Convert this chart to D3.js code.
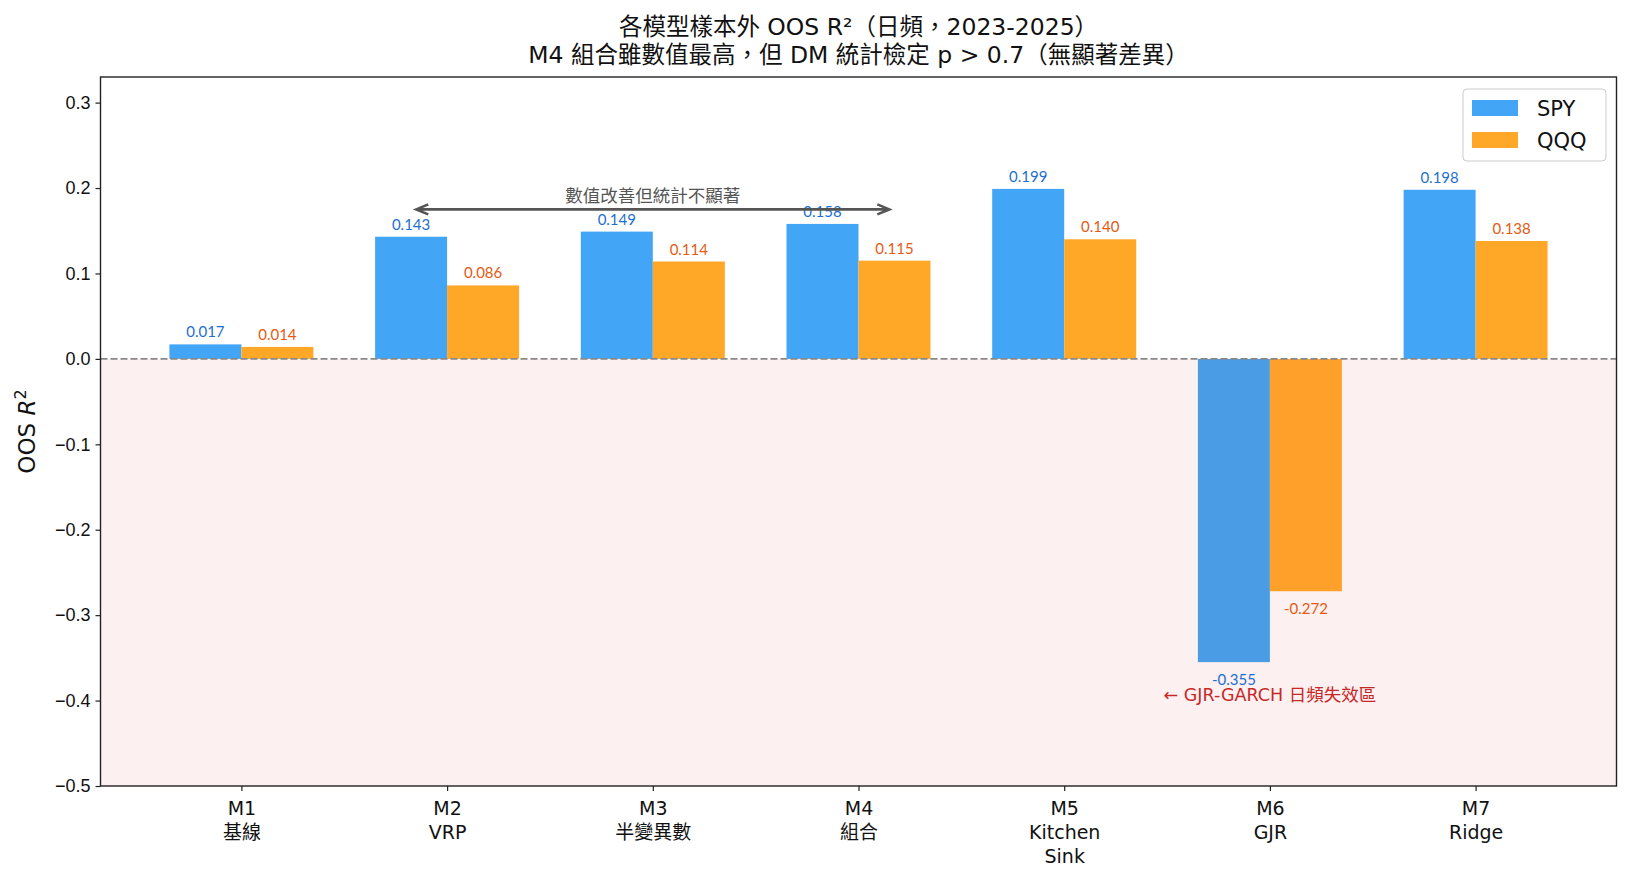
<!DOCTYPE html>
<html>
<head>
<meta charset="utf-8">
<title>OOS R2</title>
<script src="https://d3js.org/d3.v7.min.js"></script>
<style>
  body { margin: 0; background: #fff; }
  svg { display: block; font-family: "Lato", "Noto Sans CJK TC", sans-serif; }
  .wide { font-family: "DejaVu Sans", "Noto Sans CJK TC", sans-serif; }
</style>
</head>
<body>
<svg id="chart" width="1631" height="882"></svg>
<script>
// data
const modelIds = ["M1", "M2", "M3", "M4", "M5", "M6", "M7"];
const modelNames = [["基線"], ["VRP"], ["半變異數"], ["組合"], ["Kitchen", "Sink"], ["GJR"], ["Ridge"]];
const spyValues = [0.017, 0.143, 0.149, 0.158, 0.199, -0.355, 0.198];
const qqqValues = [0.014, 0.086, 0.114, 0.115, 0.140, -0.272, 0.138];
const seriesNames = ["SPY", "QQQ"];
const yTicks = [-0.5, -0.4, -0.3, -0.2, -0.1, 0.0, 0.1, 0.2, 0.3];

const svg = d3.select("#chart");
const margin = {left: 100.5, right: 14.5, top: 77, bottom: 96};
const width = +svg.attr("width"), height = +svg.attr("height");

const barW = 0.35;
const n = modelIds.length;
const pad = 0.05 * ((n - 1) + 2 * barW);
const x = d3.scaleLinear()
    .domain([-barW - pad, (n - 1) + barW + pad])
    .range([margin.left, width - margin.right]);
const y = d3.scaleLinear()
    .domain([-0.5, 0.33])
    .range([height - margin.bottom, margin.top]);

const colors = ["#42A5F5", "#FFA726"];
const negColors = ["#4A9CE5", "#FFA02A"];
const labelColors = ["#1E6FD0", "#E65A12"];

// negative zone
svg.append("rect")
    .attr("x", x.range()[0]).attr("width", x.range()[1] - x.range()[0])
    .attr("y", y(0)).attr("height", y(-0.5) - y(0))
    .attr("fill", "#fdf0f0");

// bars
const series = [spyValues, qqqValues];
series.forEach(function(vals, s) {
    const off = s === 0 ? -barW / 2 : barW / 2;
    svg.append("g").selectAll("rect")
        .data(vals)
        .enter().append("rect")
        .attr("x", (d, i) => x(i + off - barW / 2))
        .attr("width", x(barW) - x(0))
        .attr("y", d => y(Math.max(0, d)))
        .attr("height", d => Math.abs(y(d) - y(0)))
        .attr("fill", d => d < 0 ? negColors[s] : colors[s]);

    svg.append("g").selectAll("text")
        .data(vals)
        .enter().append("text")
        .attr("x", (d, i) => x(i + off))
        .attr("y", d => d >= 0 ? y(d) - 7 : y(d) + 23)
        .attr("text-anchor", "middle")
        .attr("font-size", 15)
        .attr("fill", labelColors[s])
        .text(d => d.toFixed(3));
});

// zero line
svg.append("line")
    .attr("x1", x.range()[0]).attr("x2", x.range()[1])
    .attr("y1", y(0)).attr("y2", y(0))
    .attr("stroke", "#888").attr("stroke-width", 1.6)
    .attr("stroke-dasharray", "7,3");

// axes
const yAxis = svg.append("g")
    .attr("transform", "translate(" + x.range()[0] + ",0)")
    .call(d3.axisLeft(y).tickValues(yTicks)
        .tickFormat(d => d.toFixed(1).replace("-", "\u2212"))
        .tickSize(5).tickSizeOuter(0));
yAxis.selectAll("text").attr("font-size", 18).attr("fill", "#111").attr("dx", "-2");

const xAxis = svg.append("g")
    .attr("transform", "translate(0," + y.range()[0] + ")")
    .call(d3.axisBottom(x).tickValues(d3.range(n)).tickFormat("").tickSize(5).tickSizeOuter(0));
xAxis.selectAll(".tick").each(function(d) {
    const t = d3.select(this).append("text")
        .attr("class", "wide")
        .attr("fill", "#111").attr("font-size", 19)
        .attr("text-anchor", "middle");
    [modelIds[d]].concat(modelNames[d]).forEach(function(line, k) {
        t.append("tspan").attr("x", 0).attr("y", 29 + k * 24).text(line);
    });
});
svg.selectAll(".domain").remove();
svg.selectAll(".tick line").attr("stroke", "#222").attr("stroke-width", 1.2);

// frame
svg.append("rect")
    .attr("x", x.range()[0]).attr("y", y.range()[1])
    .attr("width", x.range()[1] - x.range()[0])
    .attr("height", y.range()[0] - y.range()[1])
    .attr("fill", "none").attr("stroke", "#222").attr("stroke-width", 1.4);

// arrow annotation M2..M4
const ay = y(0.175);
const ax1 = x(0.85), ax2 = x(3.15);
svg.append("path")
    .attr("d", "M" + ax1 + "," + ay + "L" + ax2 + "," + ay +
        "M" + (ax1 + 12) + "," + (ay - 5) + "L" + ax1 + "," + ay + "L" + (ax1 + 12) + "," + (ay + 5) +
        "M" + (ax2 - 12) + "," + (ay - 5) + "L" + ax2 + "," + ay + "L" + (ax2 - 12) + "," + (ay + 5))
    .attr("fill", "none").attr("stroke", "#555").attr("stroke-width", 2.6);
svg.append("text")
    .attr("x", x(2)).attr("y", y(0.184))
    .attr("text-anchor", "middle").attr("font-size", 17.5).attr("fill", "#555")
    .text("數值改善但統計不顯著");

svg.append("text")
    .attr("class", "wide")
    .attr("x", x(5)).attr("y", y(-0.4))
    .attr("text-anchor", "middle").attr("font-size", 17.5).attr("fill", "#C62828")
    .text("← GJR-GARCH 日頻失效區");

// legend
const lg = svg.append("g").attr("transform", "translate(1463,89)");
lg.append("rect").attr("width", 143).attr("height", 72).attr("rx", 4)
    .attr("fill", "#fff").attr("fill-opacity", 0.8).attr("stroke", "#ccc");
seriesNames.forEach(function(name, s) {
    lg.append("rect").attr("x", 9).attr("y", 11 + s * 32).attr("width", 46).attr("height", 16)
        .attr("fill", colors[s]);
    lg.append("text").attr("class", "wide").attr("x", 74).attr("y", 27 + s * 32)
        .attr("font-size", 21).attr("fill", "#111").text(name);
});

// y label
svg.append("text")
    .attr("class", "wide")
    .attr("transform", "translate(35," + ((y.range()[0] + y.range()[1]) / 2) + ") rotate(-90)")
    .attr("text-anchor", "middle").attr("font-size", 23).attr("fill", "#111")
    .html('OOS <tspan font-style="italic">R</tspan><tspan dy="-9" font-size="16">2</tspan>');

// title
const cx = (x.range()[0] + x.range()[1]) / 2;
svg.append("text").attr("class", "wide").attr("x", cx).attr("y", 35).attr("text-anchor", "middle")
    .attr("font-size", 23.5).attr("fill", "#111")
    .text("各模型樣本外 OOS R²（日頻，2023-2025）");
svg.append("text").attr("class", "wide").attr("x", cx).attr("y", 63).attr("text-anchor", "middle")
    .attr("font-size", 23.5).attr("fill", "#111")
    .text("M4 組合雖數值最高，但 DM 統計檢定 p > 0.7（無顯著差異）");
</script>
</body>
</html>
